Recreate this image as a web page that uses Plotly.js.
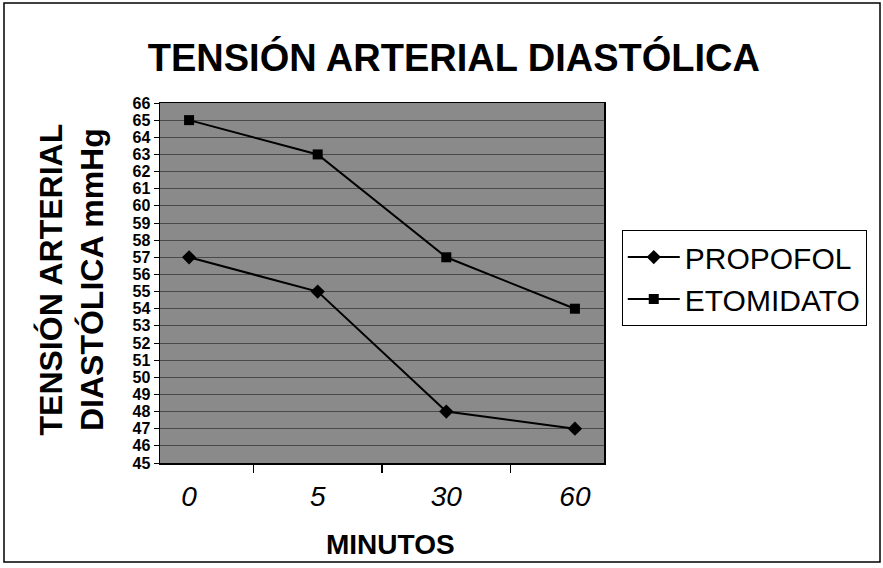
<!DOCTYPE html>
<html>
<head>
<meta charset="utf-8">
<script src="https://cdn.plot.ly/plotly-3.0.1.min.js"></script>
<style>
html,body{margin:0;padding:0;background:#fff;}
#chart{width:883px;height:568px;}
</style>
</head>
<body>
<div id="chart"></div>
<script>
var minutos = ["0", "5", "30", "60"];
var propofol = [57, 55, 48, 47];
var etomidato = [65, 63, 57, 54];
var yTicks = [45,46,47,48,49,50,51,52,53,54,55,56,57,58,59,60,61,62,63,64,65,66];

var FONT = "Liberation Sans, Arial, sans-serif";

var traces = [
  {
    x: minutos, y: propofol, name: "PROPOFOL", type: "scatter", mode: "lines+markers",
    line: {color: "#000", width: 2},
    marker: {symbol: "diamond", size: 11, color: "#000"}
  },
  {
    x: minutos, y: etomidato, name: "ETOMIDATO", type: "scatter", mode: "lines+markers",
    line: {color: "#000", width: 2},
    marker: {symbol: "square", size: 10, color: "#000"}
  }
];

var layout = {
  width: 883, height: 568,
  paper_bgcolor: "#fff",
  plot_bgcolor: "#8a8a8a",
  margin: {l: 160, r: 279, t: 103, b: 105},
  font: {family: FONT, color: "#000"},
  title: {
    text: "TENSIÓN ARTERIAL DIASTÓLICA",
    font: {family: FONT, size: 38, weight: "bold", color: "#000"},
    x: 0.514, xanchor: "center", y: 0.898, yanchor: "middle", yref: "container"
  },
  xaxis: {
    type: "category",
    tickson: "boundaries",
    ticks: "outside", ticklen: 8, tickcolor: "#000", tickwidth: 1.5,
    ticklabelstandoff: 8,
    showline: true, linecolor: "#000", linewidth: 1.5, mirror: true,
    showgrid: false, zeroline: false,
    tickfont: {family: FONT, size: 28, style: "italic", color: "#000"}
  },
  yaxis: {
    range: [45, 66],
    tickvals: yTicks,
    ticks: "outside", ticklen: 5, tickcolor: "#000",
    showline: true, linecolor: "#000", linewidth: 1.5, mirror: true,
    showgrid: true, gridcolor: "#4a4a4a", gridwidth: 1,
    zeroline: false,
    tickfont: {family: FONT, size: 16, weight: "bold", color: "#000"}
  },
  showlegend: true,
  legend: {
    x: 1.04, xanchor: "left", y: 0.647, yanchor: "top",
    bordercolor: "#000", borderwidth: 1, bgcolor: "#fff",
    font: {family: FONT, size: 30, color: "#000"},
    tracegroupgap: 0, itemwidth: 52
  },
  annotations: [
    {
      text: "TENSIÓN ARTERIAL<br>DIASTÓLICA mmHg",
      xref: "paper", yref: "paper",
      x: -0.198, y: 0.51, xanchor: "center", yanchor: "middle",
      textangle: -90, showarrow: false,
      font: {family: FONT, size: 32, weight: "bold", color: "#000"}
    },
    {
      text: "MINUTOS",
      xref: "paper", yref: "paper",
      x: 0.52, y: -0.225, xanchor: "center", yanchor: "middle",
      showarrow: false,
      font: {family: FONT, size: 28, weight: "bold", color: "#000"}
    }
  ],
  shapes: [
    {
      type: "rect", xref: "paper", yref: "paper",
      x0: (4 - 160) / 444, x1: (880 - 160) / 444,
      y0: (463 - 562) / 360, y1: (463 - 3) / 360,
      line: {color: "#000", width: 1.5}, fillcolor: "rgba(0,0,0,0)", layer: "below"
    }
  ]
};

Plotly.newPlot("chart", traces, layout, {displayModeBar: false, staticPlot: true});
</script>
</body>
</html>
